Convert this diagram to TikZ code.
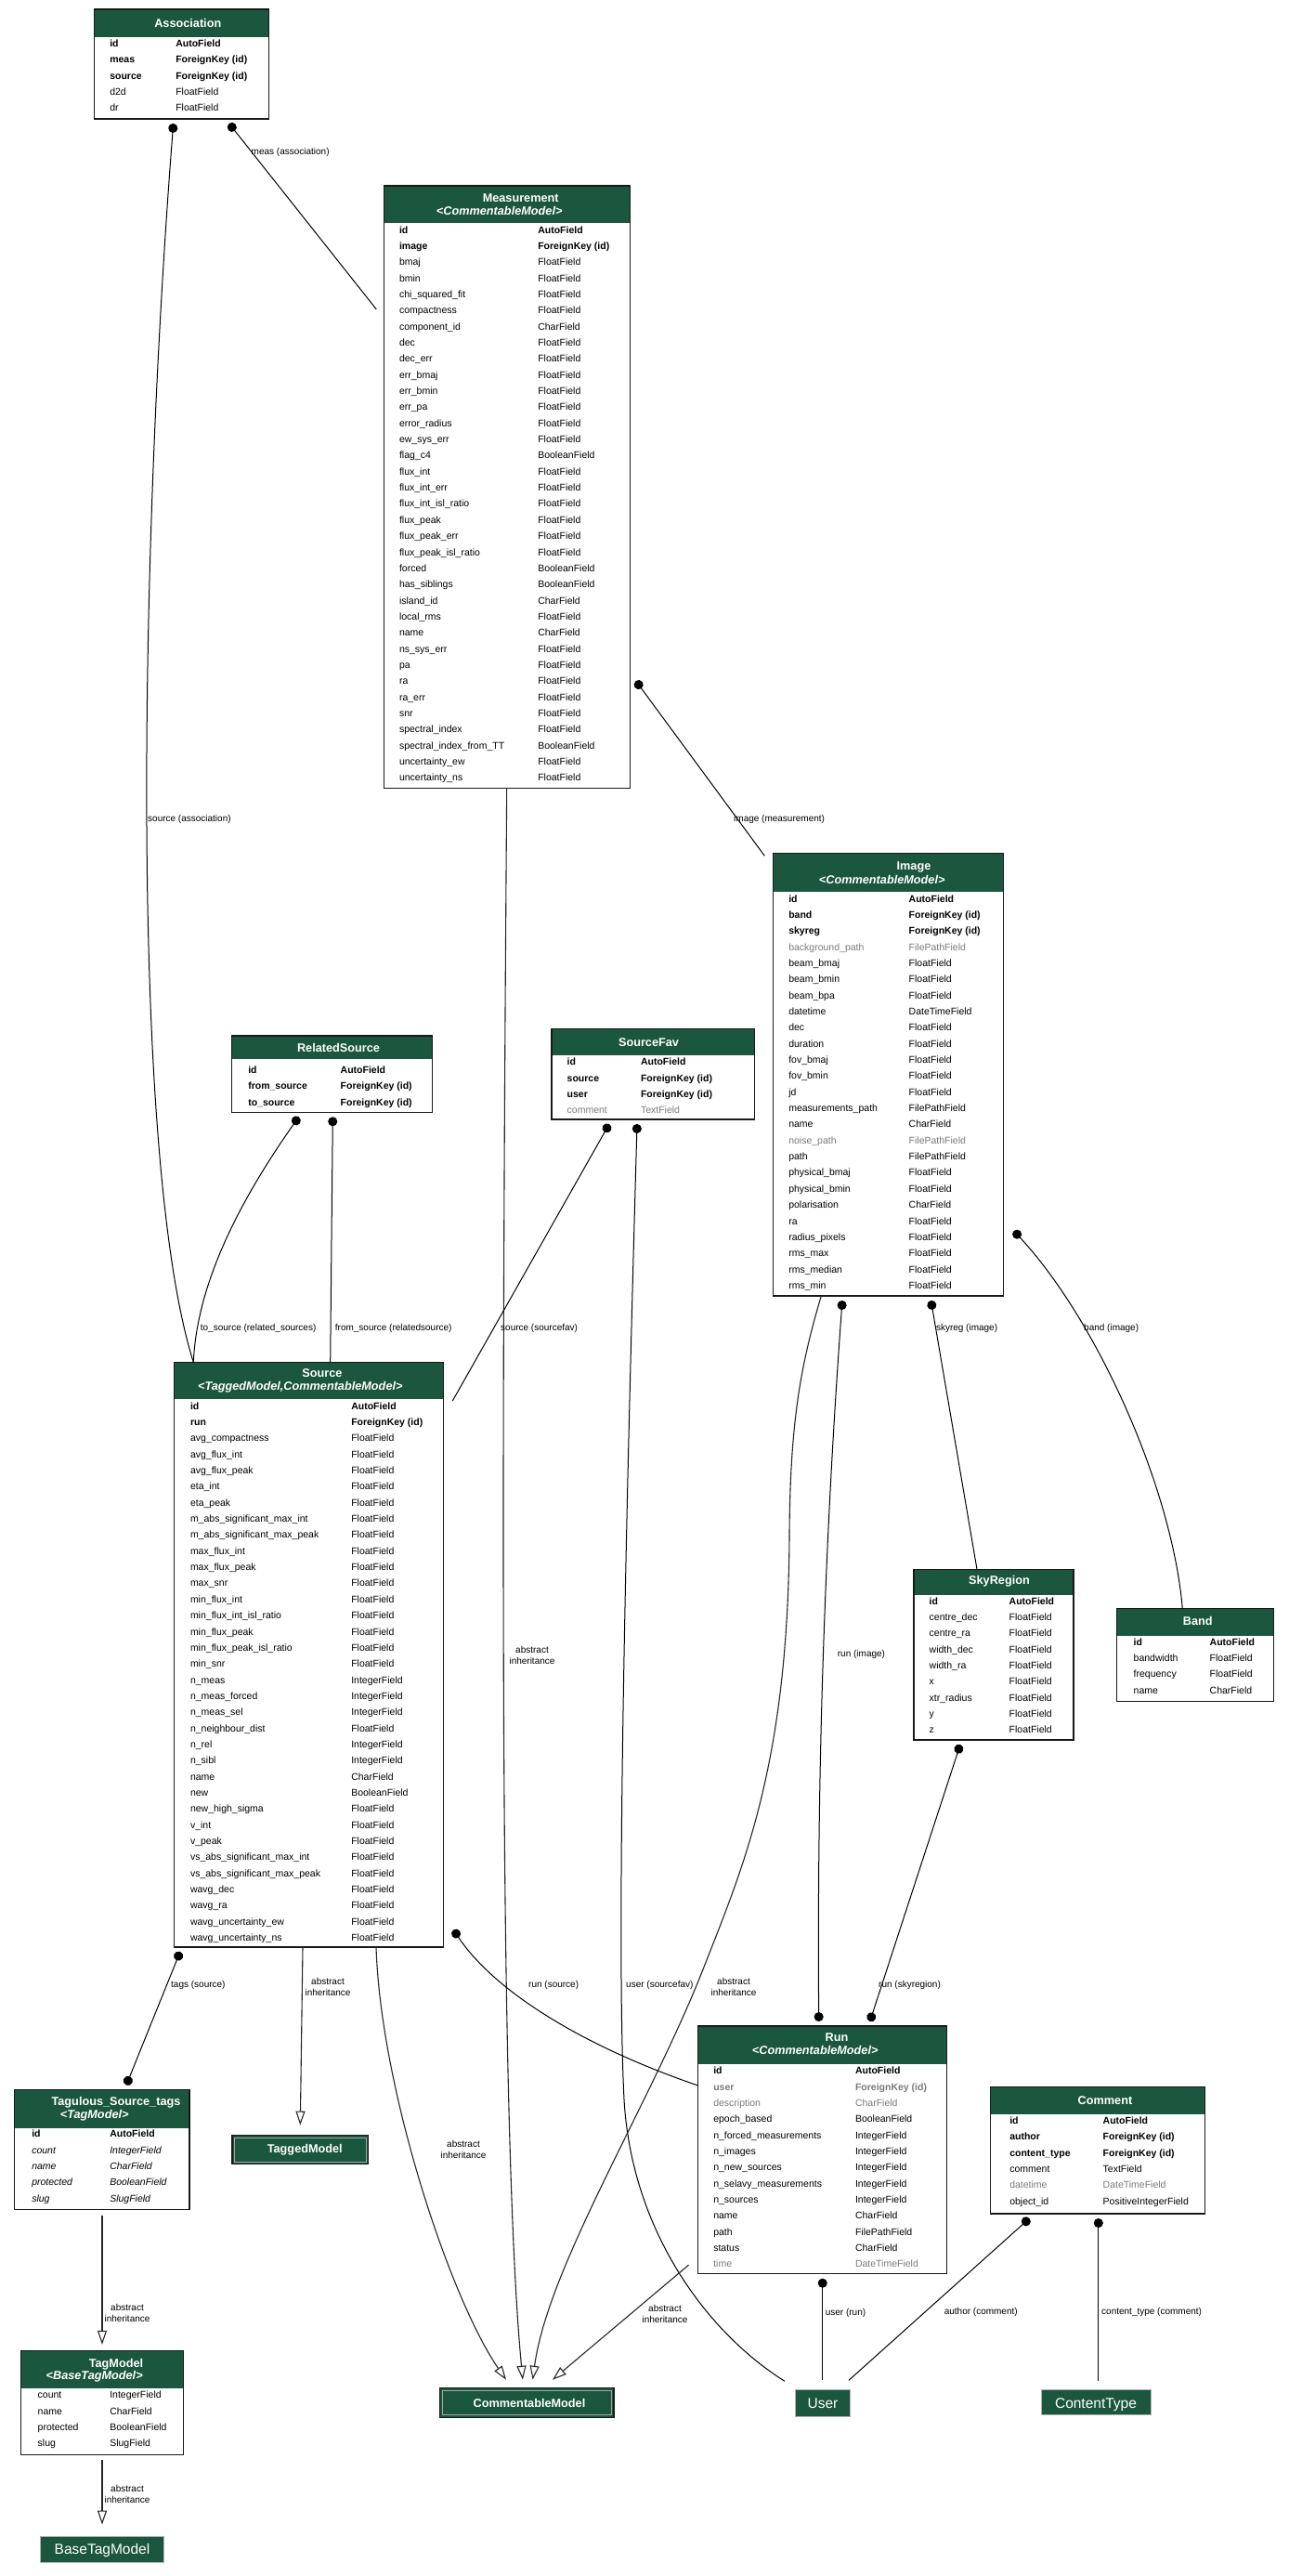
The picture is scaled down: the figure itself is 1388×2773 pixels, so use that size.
\documentclass[tikz,border=0pt]{standalone}
\usepackage{fontspec}
\setmainfont{Liberation Sans}
\usetikzlibrary{arrows.meta}
\definecolor{hdr}{HTML}{1B563F}
\definecolor{fgray}{HTML}{7B7B7B}
\newcommand\fieldfont{\fontsize{10.5}{12}\selectfont}
\newcommand\hdrfont{\fontsize{12.7}{14}\selectfont\bfseries}
\newcommand\lblfont{\fontsize{10}{12}\selectfont}
\newcommand\mybigfont{\fontsize{15.5}{18}\selectfont}
\newcommand\dbtab[6]{%
  \node[anchor=north west, inner sep=0pt, outer sep=0pt, minimum width={(#4-#2)*1pt}, minimum height={(#5-#3)*1pt}] (#1) at (#2,#3) {};
  \fill[hdr] (#2+0.6,#3+0.6) rectangle (#4-0.6,#6);
  \draw[tblborder] (#1.north west) rectangle (#1.south east);
}
\newcommand\dbrows[5]{%
  \foreach \a/\b/\s [count=\i from 0] in {#5}{%
    \node[fld,\s,anchor=base west] (#1-a\i) at (#2,#4+\i*17.35+3.7) {\a};
    \node[fld,\s,anchor=base west] (#1-b\i) at (#3,#4+\i*17.35+3.7) {\b};
  }%
}
\newcommand\simplebox[6]{%
  \node[anchor=north west, inner sep=0pt, outer sep=0pt, minimum width={(#4-#2)*1pt}, minimum height={(#5-#3)*1pt}, #6] (#1) at (#2,#3) {};
}
\tikzset{
  tblborder/.style={draw=black!90, line width=1.3pt},
  fld/.style={inner sep=0pt, outer sep=0pt},
  fb/.style={font=\fieldfont\bfseries},
  fn/.style={font=\fieldfont},
  fg/.style={font=\fieldfont, text=fgray},
  fgb/.style={font=\fieldfont\bfseries, text=fgray},
  fi/.style={font=\fieldfont\itshape},
  ttl/.style={font=\hdrfont, text=white, anchor=base, inner sep=0pt},
  sttl/.style={font=\hdrfont\itshape, text=white, anchor=base, inner sep=0pt},
  bigttl/.style={font=\mybigfont, text=white, anchor=base, inner sep=0pt},
  lbl/.style={font=\lblfont, inner sep=0pt, anchor=base west},
  ailbl/.style={font=\lblfont, inner sep=0pt, align=center, anchor=center},
  rel/.style={draw=black, line width=1pt},
  dotstart/.style={{Circle[length=10pt,width=10pt]}-},
  dotboth/.style={{Circle[length=10pt,width=10pt]}-{Circle[length=10pt,width=10pt]}},
  inh/.style={draw=black!85, line width=1.1pt, -{Triangle[open,length=15pt,width=10pt,line width=1.1pt]}},
  dblbox/.style={fill=hdr, draw=black!90, line width=1.3pt},
  lightbox/.style={fill=hdr, draw=gray!60, line width=0.8pt}
}
\begin{document}
\begin{tikzpicture}[x=1pt,y=-1pt]
\fill[white] (0,0) rectangle (1388,2773);
\useasboundingbox (0,0) rectangle (1388,2773);

% ---------- Association
\dbtab{assoc}{101.7}{10}{289.3}{128}{40}
\node[ttl] (assoc-t) at (202.3,29.5) {Association};
\dbrows{assoc}{118.3}{189.3}{46.7}{id/AutoField/fb, meas/ForeignKey (id)/fb, source/ForeignKey (id)/fb, d2d/FloatField/fn, dr/FloatField/fn}

% ---------- Measurement
\dbtab{meas}{413.3}{200}{678.7}{848.3}{240}
\node[ttl] (meas-t) at (560.7,217.2) {Measurement};
\node[sttl] (meas-s) at (537.7,231.2) {<CommentableModel>};
\dbrows{meas}{430}{579.3}{247.3}{id/AutoField/fb, image/ForeignKey (id)/fb, bmaj/FloatField/fn, bmin/FloatField/fn, chi\_squared\_fit/FloatField/fn, compactness/FloatField/fn, component\_id/CharField/fn, dec/FloatField/fn, dec\_err/FloatField/fn, err\_bmaj/FloatField/fn, err\_bmin/FloatField/fn, err\_pa/FloatField/fn, error\_radius/FloatField/fn, ew\_sys\_err/FloatField/fn, flag\_c4/BooleanField/fn, flux\_int/FloatField/fn, flux\_int\_err/FloatField/fn, flux\_int\_isl\_ratio/FloatField/fn, flux\_peak/FloatField/fn, flux\_peak\_err/FloatField/fn, flux\_peak\_isl\_ratio/FloatField/fn, forced/BooleanField/fn, has\_siblings/BooleanField/fn, island\_id/CharField/fn, local\_rms/FloatField/fn, name/CharField/fn, ns\_sys\_err/FloatField/fn, pa/FloatField/fn, ra/FloatField/fn, ra\_err/FloatField/fn, snr/FloatField/fn, spectral\_index/FloatField/fn, spectral\_index\_from\_TT/BooleanField/fn, uncertainty\_ew/FloatField/fn, uncertainty\_ns/FloatField/fn}

% ---------- Image
\dbtab{img}{832.3}{918.3}{1080.7}{1395}{960}
\node[ttl] (img-t) at (984,936.2) {Image};
\node[sttl] (img-s) at (949.7,951.2) {<CommentableModel>};
\dbrows{img}{849.3}{978.7}{967.3}{id/AutoField/fb, band/ForeignKey (id)/fb, skyreg/ForeignKey (id)/fb, background\_path/FilePathField/fg, beam\_bmaj/FloatField/fn, beam\_bmin/FloatField/fn, beam\_bpa/FloatField/fn, datetime/DateTimeField/fn, dec/FloatField/fn, duration/FloatField/fn, fov\_bmaj/FloatField/fn, fov\_bmin/FloatField/fn, jd/FloatField/fn, measurements\_path/FilePathField/fn, name/CharField/fn, noise\_path/FilePathField/fg, path/FilePathField/fn, physical\_bmaj/FloatField/fn, physical\_bmin/FloatField/fn, polarisation/CharField/fn, ra/FloatField/fn, radius\_pixels/FloatField/fn, rms\_max/FloatField/fn, rms\_median/FloatField/fn, rms\_min/FloatField/fn}

% ---------- RelatedSource
\dbtab{rels}{249.3}{1115}{465.7}{1197.3}{1139.5}
\node[ttl] (rels-t) at (364.5,1132.3) {RelatedSource};
\dbrows{rels}{267.3}{366.7}{1151.7}{id/AutoField/fb, from\_source/ForeignKey (id)/fb, to\_source/ForeignKey (id)/fb}

% ---------- SourceFav
\dbtab{sfav}{594}{1107.3}{812.3}{1205}{1136}
\node[ttl] (sfav-t) at (698.5,1126) {SourceFav};
\dbrows{sfav}{610.7}{690}{1143}{id/AutoField/fb, source/ForeignKey (id)/fb, user/ForeignKey (id)/fb, comment/TextField/fg}

% ---------- Source
\dbtab{src}{187.3}{1466.4}{477.3}{2096}{1506}
\node[ttl] (src-t) at (347,1482.8) {Source};
\node[sttl] (src-s) at (323.3,1496.2) {<TaggedModel,CommentableModel>};
\dbrows{src}{205}{378.3}{1513.4}{id/AutoField/fb, run/ForeignKey (id)/fb, avg\_compactness/FloatField/fn, avg\_flux\_int/FloatField/fn, avg\_flux\_peak/FloatField/fn, eta\_int/FloatField/fn, eta\_peak/FloatField/fn, m\_abs\_significant\_max\_int/FloatField/fn, m\_abs\_significant\_max\_peak/FloatField/fn, max\_flux\_int/FloatField/fn, max\_flux\_peak/FloatField/fn, max\_snr/FloatField/fn, min\_flux\_int/FloatField/fn, min\_flux\_int\_isl\_ratio/FloatField/fn, min\_flux\_peak/FloatField/fn, min\_flux\_peak\_isl\_ratio/FloatField/fn, min\_snr/FloatField/fn, n\_meas/IntegerField/fn, n\_meas\_forced/IntegerField/fn, n\_meas\_sel/IntegerField/fn, n\_neighbour\_dist/FloatField/fn, n\_rel/IntegerField/fn, n\_sibl/IntegerField/fn, name/CharField/fn, new/BooleanField/fn, new\_high\_sigma/FloatField/fn, v\_int/FloatField/fn, v\_peak/FloatField/fn, vs\_abs\_significant\_max\_int/FloatField/fn, vs\_abs\_significant\_max\_peak/FloatField/fn, wavg\_dec/FloatField/fn, wavg\_ra/FloatField/fn, wavg\_uncertainty\_ew/FloatField/fn, wavg\_uncertainty\_ns/FloatField/fn}

% ---------- SkyRegion
\dbtab{sky}{984}{1689.3}{1156}{1873}{1716.7}
\node[ttl] (sky-t) at (1076,1705.2) {SkyRegion};
\dbrows{sky}{1000.7}{1086.7}{1723.3}{id/AutoField/fb, centre\_dec/FloatField/fn, centre\_ra/FloatField/fn, width\_dec/FloatField/fn, width\_ra/FloatField/fn, x/FloatField/fn, xtr\_radius/FloatField/fn, y/FloatField/fn, z/FloatField/fn}

% ---------- Band
\dbtab{band}{1202.7}{1731.7}{1371.7}{1831.7}{1761}
\node[ttl] (band-t) at (1289.7,1749.5) {Band};
\dbrows{band}{1220.7}{1302.7}{1767.3}{id/AutoField/fb, bandwidth/FloatField/fn, frequency/FloatField/fn, name/CharField/fn}

% ---------- Run
\dbtab{run}{751.7}{2181}{1019.3}{2447.7}{2221.7}
\node[ttl] (run-t) at (901,2197.8) {Run};
\node[sttl] (run-s) at (877.7,2211.2) {<CommentableModel>};
\dbrows{run}{768.3}{921}{2229}{id/AutoField/fb, user/ForeignKey (id)/fgb, description/CharField/fg, epoch\_based/BooleanField/fn, n\_forced\_measurements/IntegerField/fn, n\_images/IntegerField/fn, n\_new\_sources/IntegerField/fn, n\_selavy\_measurements/IntegerField/fn, n\_sources/IntegerField/fn, name/CharField/fn, path/FilePathField/fn, status/CharField/fn, time/DateTimeField/fg}

% ---------- Comment
\dbtab{cmt}{1066.7}{2246.7}{1297.3}{2383}{2276}
\node[ttl] (cmt-t) at (1190,2265.5) {Comment};
\dbrows{cmt}{1087.3}{1187.7}{2282.7}{id/AutoField/fb, author/ForeignKey (id)/fb, content\_type/ForeignKey (id)/fb, comment/TextField/fn, datetime/DateTimeField/fg, object\_id/PositiveIntegerField/fn}

% ---------- Tagulous_Source_tags
\dbtab{tagsrc}{15.7}{2249.5}{204}{2378.7}{2291}
\node[ttl] (tagsrc-t) at (125,2266.9) {Tagulous\_Source\_tags};
\node[sttl] (tagsrc-s) at (101.7,2280.9) {<TagModel>};
\dbrows{tagsrc}{34.3}{118.3}{2297.1}{id/AutoField/fb, count/IntegerField/fi, name/CharField/fi, protected/BooleanField/fi, slug/SlugField/fi}

% ---------- TagModel
\dbtab{tagm}{22.7}{2530.6}{197.3}{2642.8}{2571.4}
\node[ttl] (tagm-t) at (125,2548) {TagModel};
\node[sttl] (tagm-s) at (101.7,2561.3) {<BaseTagModel>};
\dbrows{tagm}{40.7}{118.3}{2578.2}{count/IntegerField/fn, name/CharField/fn, protected/BooleanField/fn, slug/SlugField/fn}

% ---------- simple boxes
\simplebox{tgm}{250}{2298.5}{396.7}{2329.4}{dblbox}
\draw[gray!70, line width=0.7pt] ([xshift=2.5pt,yshift=-2.5pt]tgm.north west) rectangle ([xshift=-2.5pt,yshift=2.5pt]tgm.south east);
\node[ttl] (tgm-t) at (328.3,2317.5) {TaggedModel};

\simplebox{cm}{473.6}{2570.7}{661}{2602.3}{dblbox}
\draw[gray!70, line width=0.7pt] ([xshift=2.5pt,yshift=-2.5pt]cm.north west) rectangle ([xshift=-2.5pt,yshift=2.5pt]cm.south east);
\node[ttl] (cm-t) at (570,2591) {CommentableModel};

\simplebox{btm}{43.3}{2730.5}{176.7}{2758.4}{lightbox}
\node[bigttl] (btm-t) at (110,2749.5) {BaseTagModel};

\simplebox{user}{856.4}{2572.7}{915.7}{2601}{lightbox}
\node[bigttl] (user-t) at (886,2592.5) {User};

\simplebox{ctype}{1121}{2572.6}{1239.5}{2599}{lightbox}
\node[bigttl] (ctype-t) at (1180,2592) {ContentType};

% ---------- connectors
\draw[rel, dotstart] ([xshift=85pt,yshift=-5pt]assoc.south west) .. controls (150,600) and (140,1250) .. ([xshift=21pt]src.north west);
\draw[rel, dotstart] ([xshift=145pt,yshift=-5pt]assoc.south west) -- ([xshift=-8pt,yshift=-133pt]meas.north west);
\draw[rel, dotstart] ([xshift=6pt,yshift=-533pt]meas.north east) -- ([xshift=-9pt,yshift=-3pt]img.north west);
\draw[inh] ([xshift=132.4pt]meas.south west) .. controls (540,1600) and (538,2300) .. ([xshift=89.3pt,yshift=9pt]cm.north west);
\draw[rel, dotstart] ([xshift=72.4pt,yshift=-5pt]rels.south west) .. controls (260,1290) and (212,1380) .. ([xshift=21pt]src.north west);
\draw[rel, dotstart] ([xshift=109pt,yshift=-5pt]rels.south west) -- ([xshift=168.4pt]src.north west);
\draw[rel, dotstart] ([xshift=62pt,yshift=-5pt]sfav.south west) -- ([xshift=10pt,yshift=-41.6pt]src.north east);
\draw[rel, dotstart] ([xshift=92pt,yshift=-5pt]sfav.south west) .. controls (672,1700) and (664,2100) .. (672,2260) .. controls (680,2400) and (760,2510) .. ([xshift=-11.4pt,yshift=9.4pt]user.north west);
\draw[inh] ([xshift=138.7pt]src.south west) -- ([xshift=73.3pt,yshift=10.9pt]tgm.north west);
\draw[inh] ([xshift=217.7pt]src.south west) .. controls (410,2250) and (485,2475) .. ([xshift=71.4pt,yshift=9pt]cm.north west);
\draw[rel, dotboth] ([xshift=6.7pt,yshift=-5pt]src.south west) -- ([xshift=120.3pt,yshift=5pt]tagsrc.north west);
\draw[inh] ([xshift=94.3pt,yshift=-5.8pt]tagsrc.south west) -- ([xshift=87.3pt,yshift=6.8pt]tagm.north west);
\draw[inh] ([xshift=87.3pt,yshift=-5.1pt]tagm.south west) -- ([xshift=66.7pt,yshift=12.9pt]btm.north west);
\draw[inh] ([xshift=52pt]img.south west) .. controls (862,1470) and (851,1530) .. (850,1650) .. controls (849,1900) and (800,2010) .. (757,2120) .. controls (700,2265) and (590,2440) .. ([xshift=100pt,yshift=9pt]cm.north west);
\draw[rel, dotboth] ([xshift=74.7pt,yshift=-5pt]img.south west) .. controls (885,1700) and (880,1950) .. ([xshift=130pt,yshift=5pt]run.north west);
\draw[rel, dotstart] ([xshift=170.2pt,yshift=-5pt]img.south west) -- ([xshift=68pt]sky.north west);
\draw[rel, dotstart] ([xshift=11pt,yshift=-406.7pt]img.north east) .. controls (1180,1420) and (1262,1600) .. ([xshift=70.6pt]band.north west);
\draw[rel, dotboth] ([xshift=50pt,yshift=-5pt]sky.south west) -- ([xshift=185pt,yshift=5pt]run.north west);
\draw[rel, dotstart] ([xshift=11pt,yshift=18.6pt]src.south east) .. controls (530,2140) and (620,2200) .. ([yshift=-64pt]run.north west);
\draw[inh] ([xshift=-10.3pt,yshift=9.4pt]run.south west) -- ([xshift=121.4pt,yshift=9pt]cm.north west);
\draw[rel, dotstart] ([xshift=134pt,yshift=-5pt]run.south west) -- ([xshift=29.3pt,yshift=10.7pt]user.north west);
\draw[rel, dotstart] ([xshift=41.8pt,yshift=-5pt]cmt.south west) -- ([xshift=57.6pt,yshift=10.4pt]user.north west);
\draw[rel, dotstart] ([xshift=116.1pt,yshift=-5pt]cmt.south west) -- ([xshift=61.8pt,yshift=9.6pt]ctype.north west);

% ---------- labels
\node[lbl] (l-meas) at (270.5,166.3) {meas (association)};
\node[lbl] (l-srcassoc) at (159,884.1) {source (association)};
\node[lbl] (l-image) at (790,884.1) {image (measurement)};
\node[lbl] (l-tosrc) at (215.7,1432.2) {to\_source (related\_sources)};
\node[lbl] (l-fromsrc) at (360.7,1432.2) {from\_source (relatedsource)};
\node[lbl] (l-srcfav) at (539,1432.2) {source (sourcefav)};
\node[lbl] (l-skyreg) at (1007.8,1432.2) {skyreg (image)};
\node[lbl] (l-band) at (1167,1432.2) {band (image)};
\node[lbl] (l-runimg) at (901.7,1783.6) {run (image)};
\node[lbl] (l-tags) at (184,2139.3) {tags (source)};
\node[lbl] (l-runsrc) at (569,2139.3) {run (source)};
\node[lbl] (l-usrfav) at (674,2139.3) {user (sourcefav)};
\node[lbl] (l-runsky) at (946,2139.3) {run (skyregion)};
\node[lbl] (l-userrun) at (888.6,2492.6) {user (run)};
\node[lbl] (l-author) at (1016.6,2491.6) {author (comment)};
\node[lbl] (l-ctype) at (1186,2491.6) {content\_type (comment)};

\node[ailbl] (ai-meas) at (573,1781.5) {abstract\\inheritance};
\node[ailbl] (ai-tgm) at (353,2138.5) {abstract\\inheritance};
\node[ailbl] (ai-img) at (790,2138.5) {abstract\\inheritance};
\node[ailbl] (ai-srccm) at (499,2313.5) {abstract\\inheritance};
\node[ailbl] (ai-tagsrc) at (137,2490) {abstract\\inheritance};
\node[ailbl] (ai-run) at (716,2490.5) {abstract\\inheritance};
\node[ailbl] (ai-tagm) at (137,2685) {abstract\\inheritance};
\end{tikzpicture}
\end{document}
